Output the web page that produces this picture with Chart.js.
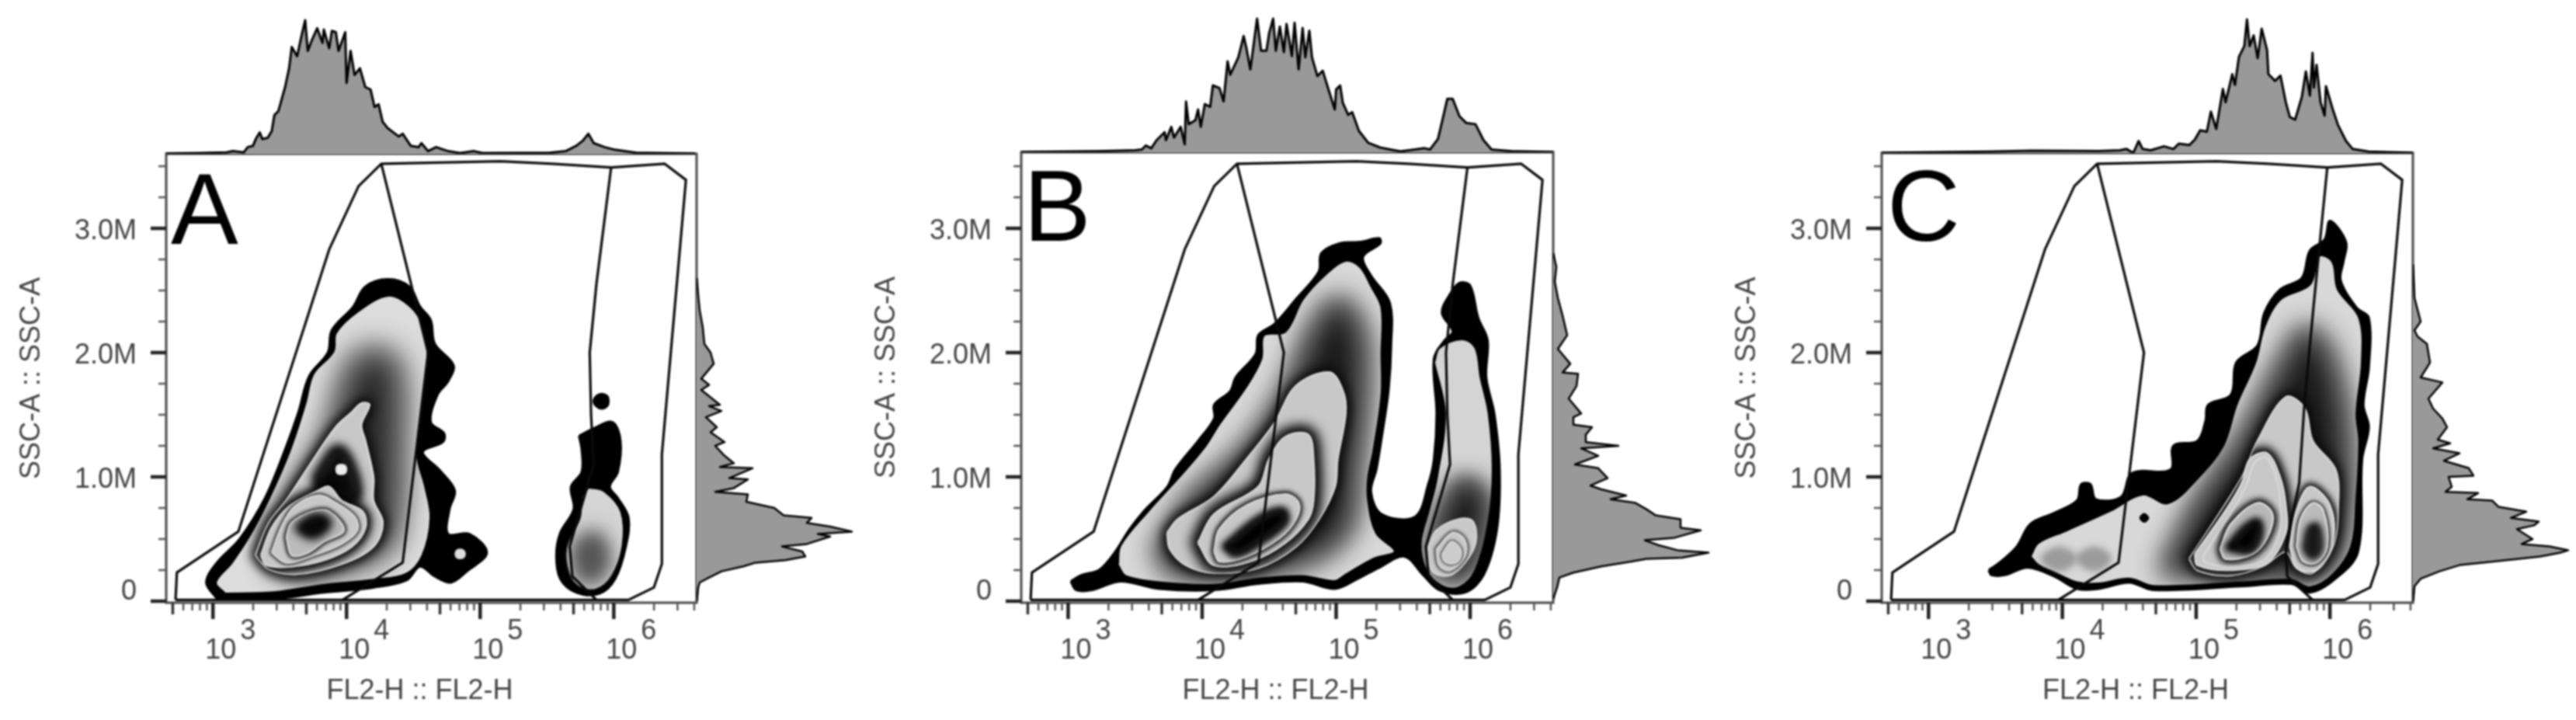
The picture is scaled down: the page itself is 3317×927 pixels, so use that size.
<!DOCTYPE html>
<html><head><meta charset="utf-8">
<script src="https://cdn.jsdelivr.net/npm/chart.js@4"></script>
<style>
html,body{margin:0;padding:0;background:#fff;width:3317px;height:927px;overflow:hidden}
canvas{position:absolute;filter:blur(0.9px)}
</style></head><body>
<script>
// all shapes: [log10(FL2-H), SSC-A in millions]
const panelLetters=['A','B','C'];
const xTitle='FL2-H :: FL2-H   ', yTitle='SSC-A :: SSC-A';
const xDecades=[1e2,1e3,1e4,1e5,1e6], xLabelled=[3,4,5,6], xMultipliers=[1,2,3,4,5,6,7,8,9];
const yMajor=[0,1,2,3], yMinor=[.25,.5,.75,1.25,1.5,1.75,2.25,2.5,2.75,3.25,3.5];
const yTickLabels=['0','1.0M','2.0M','3.0M'];

const gateOuter=[[2.72,.01],[2.73,.23],[3.19,.56],[3.87,2.83],[4.09,3.34],[4.26,3.52],[5.15,3.54],[5.54,3.52],[5.98,3.49],[6.38,3.52],[6.54,3.39],[6.36,1.18],[6.36,.30],[6.30,.11],[6.11,.01],[2.72,.01]];
const gateLeft=[[4.26,3.52],[4.61,2.0],[4.42,.31],[3.97,.01]];
const gateRightAB=[[5.98,3.49],[5.87,2.55],[5.82,2],[5.83,1.5],[5.85,1.1],[5.67,.44],[5.69,.2],[5.87,.01]];
const gateRightC=[[5.98,3.49],[5.88,2.4],[5.81,1.6],[5.77,.95],[5.67,.42],[5.68,.2],[5.87,.01]];

// Panel A
const aBlack=[[3.03,.02],[2.95,.15],[3.03,.31],[3.20,.50],[3.39,.83],[3.54,1.22],[3.64,1.52],[3.72,1.81],[3.86,2.00],[3.89,2.18],[4.05,2.37],[4.14,2.53],[4.31,2.59],[4.47,2.53],[4.55,2.37],[4.63,2.26],[4.66,2.07],[4.80,1.90],[4.76,1.77],[4.68,1.66],[4.63,1.44],[4.73,1.35],[4.72,1.28],[4.57,1.20],[4.70,1.05],[4.81,.89],[4.77,.74],[4.76,.54],[4.92,.54],[5.05,.39],[4.90,.24],[4.78,.15],[4.66,.20],[4.55,.28],[4.45,.17],[4.20,.11],[3.83,.07],[3.46,.02]];
const aLight=[[3.09,.06],[3.02,.15],[3.14,.31],[3.28,.54],[3.42,.83],[3.57,1.20],[3.69,1.59],[3.75,1.83],[3.90,2.01],[3.92,2.16],[4.08,2.33],[4.31,2.46],[4.47,2.38],[4.57,2.22],[4.61,1.92],[4.57,1.59],[4.53,1.18],[4.59,.92],[4.63,.67],[4.57,.37],[4.45,.22],[4.20,.17],[3.83,.13],[3.46,.07]];
const aRidge=[[3.46,.41],[3.59,.81],[3.87,1.33],[4.04,1.89],[4.20,2.0],[4.37,1.89],[4.39,1.15],[4.37,.67],[4.29,.44],[3.87,.26],[3.55,.26]];
const aC2=[[3.32,.37],[3.42,.63],[3.55,.81],[3.71,1.07],[3.92,1.40],[4.04,1.52],[4.11,1.59],[4.17,1.58],[4.11,1.42],[4.14,1.29],[4.20,1.0],[4.20,.81],[4.27,.63],[4.20,.44],[3.96,.30],[3.63,.22],[3.42,.26]];
const aC2Ridge=[[3.78,1.0],[3.94,1.22],[4.06,1.0],[4.06,.82],[3.8,.92]];
const aC3=[[3.36,.37],[3.44,.59],[3.57,.76],[3.79,.89],[3.87,.92],[3.96,.81],[4.12,.72],[4.14,.59],[4.04,.44],[3.83,.33],[3.59,.28],[3.40,.29]];
const aC4=[[3.44,.39],[3.51,.59],[3.61,.76],[3.79,.85],[3.92,.79],[4.06,.68],[4.08,.57],[3.96,.46],[3.75,.37],[3.55,.31]];
const aC5=[[3.55,.52],[3.59,.63],[3.75,.72],[3.87,.72],[3.98,.57],[3.83,.48],[3.71,.39],[3.59,.37]];
const aCore=[[3.65,.59],[3.77,.67],[3.85,.63],[3.75,.54]];
const aHole=[[3.92,1.06],[3.93,1.09],[3.96,1.10],[3.99,1.09],[4.0,1.06],[3.99,1.03],[3.96,1.02],[3.93,1.03]];
const aBlobHole=[[4.81,.38],[4.82,.41],[4.85,.42],[4.88,.41],[4.89,.38],[4.88,.35],[4.85,.34],[4.82,.35]];
const aLobeBlack=[[5.74,1.33],[5.85,1.39],[5.99,1.44],[6.05,1.29],[6.03,1.04],[5.97,.92],[6.03,.83],[6.11,.67],[6.09,.44],[6.01,.18],[5.89,.06],[5.72,.07],[5.60,.18],[5.57,.37],[5.60,.55],[5.70,.74],[5.68,.92],[5.76,1.04],[5.76,1.22]];
const aLobeDot=[[5.91,1.67],[5.95,1.65],[5.96,1.61],[5.95,1.57],[5.91,1.55],[5.87,1.57],[5.85,1.61],[5.87,1.65]];
const aLobeLight=[[5.81,.92],[5.93,.89],[6.06,.72],[6.07,.44],[5.99,.20],[5.87,.09],[5.74,.11],[5.66,.22],[5.64,.43],[5.74,.67],[5.76,.85]];
const aLobeSpot=[[5.76,.41],[5.85,.48],[5.89,.30],[5.80,.22]];
const aTopX=[2.65,2.9,3.1,3.15,3.23,3.26,3.30,3.32,3.35,3.37,3.41,3.44,3.46,3.49,3.54,3.57,3.59,3.63,3.66,3.69,3.71,3.74,3.78,3.82,3.83,3.87,3.89,3.92,3.94,3.99,4.00,4.03,4.06,4.10,4.14,4.18,4.21,4.24,4.27,4.31,4.39,4.42,4.48,4.54,4.56,4.61,4.67,4.76,4.85,4.95,5.02,5.52,5.64,5.72,5.77,5.81,5.85,5.93,6.01,6.17,6.61];
const aTopY=[0,.5,1,2,1,5,6,11,16,11,12,17,29,32,50,64,80,73,87,100,77,85,94,83,93,79,92,91,77,91,53,77,59,64,50,48,35,37,24,19,13,15,6,5,8,2,5,2,.5,2,.5,.7,2,6,10,15,8,5,3,.7,0];
const aSideY=[0,.11,.15,.19,.24,.28,.31,.33,.36,.40,.44,.46,.52,.54,.56,.60,.63,.67,.69,.75,.80,.86,.88,.91,.98,.99,1.07,1.08,1.11,1.17,1.25,1.28,1.36,1.40,1.48,1.53,1.57,1.58,1.70,1.74,1.79,1.91,2.0,2.07,2.20,2.34,2.46,2.6];
const aSideV=[0,1,2,8,16,30,38,57,70,68,55,71,86,78,100,86,71,74,56,50,32,33,12,24,33,21,36,15,24,18,12,18,9,13,6,16,8,15,3,8,3,11,9,5,4,2,1,0];

// Panel B
const bBlack=[[3.02,.16],[3.10,.21],[3.23,.25],[3.34,.38],[3.46,.58],[3.57,.73],[3.74,.92],[3.80,1.06],[3.97,1.29],[4.09,1.47],[4.09,1.58],[4.21,1.69],[4.25,1.80],[4.40,1.99],[4.42,2.14],[4.54,2.23],[4.70,2.43],[4.87,2.65],[4.89,2.80],[5.03,2.88],[5.18,2.89],[5.32,2.92],[5.33,2.88],[5.20,2.77],[5.26,2.62],[5.40,2.40],[5.41,2.06],[5.39,1.69],[5.34,1.32],[5.30,1.06],[5.26,.88],[5.34,.70],[5.59,.68],[5.69,.95],[5.73,1.14],[5.75,1.51],[5.73,1.95],[5.81,2.10],[5.87,2.17],[5.79,2.32],[5.85,2.47],[5.92,2.56],[6.00,2.54],[6.06,2.28],[6.13,2.10],[6.12,1.80],[6.18,1.51],[6.22,1.06],[6.20,.58],[6.10,.21],[5.96,.07],[5.77,.09],[5.65,.21],[5.51,.36],[5.32,.27],[5.16,.18],[4.99,.10],[4.75,.16],[4.42,.14],[4.09,.09],[3.68,.10],[3.39,.16],[3.18,.09],[3.06,.09]];
const bLight=[[3.37,.29],[3.39,.45],[3.60,.73],[3.82,.99],[4.01,1.23],[4.13,1.43],[4.33,1.73],[4.44,1.95],[4.46,2.14],[4.62,2.17],[4.75,2.43],[4.91,2.62],[5.07,2.74],[5.18,2.69],[5.26,2.54],[5.34,2.36],[5.34,1.99],[5.34,1.66],[5.28,1.21],[5.24,.99],[5.24,.81],[5.30,.55],[5.44,.40],[5.28,.34],[5.07,.21],[4.99,.16],[4.75,.20],[4.42,.18],[4.09,.13],[3.68,.15],[3.43,.20]];
const bRidge=[[3.68,.40],[3.92,.81],[4.33,1.21],[4.62,1.66],[4.87,2.25],[5.03,2.40],[5.18,2.17],[5.20,1.66],[5.14,1.06],[5.07,.58],[4.75,.33],[4.09,.23],[3.80,.25]];
const bC2=[[3.74,.55],[3.82,.66],[4.09,.84],[4.33,1.14],[4.54,1.43],[4.70,1.73],[4.95,1.84],[5.05,1.69],[5.07,1.51],[5.01,1.14],[4.99,.92],[4.87,.66],[4.70,.44],[4.42,.27],[4.09,.23],[3.88,.29],[3.76,.42]];
const bC3=[[3.97,.47],[4.09,.70],[4.42,.92],[4.50,1.14],[4.62,1.32],[4.79,1.34],[4.83,1.14],[4.83,.81],[4.79,.66],[4.62,.47],[4.38,.33],[4.09,.29]];
const bC4=[[4.09,.40],[4.13,.58],[4.33,.77],[4.62,.86],[4.72,.79],[4.70,.66],[4.58,.51],[4.33,.36],[4.13,.32]];
const bCore=[[4.17,.44],[4.42,.66],[4.60,.73],[4.62,.64],[4.42,.47],[4.25,.38]];
const bLobeLight=[[5.73,1.92],[5.77,2.04],[5.94,2.11],[6.04,2.04],[6.08,1.80],[6.14,1.51],[6.17,1.06],[6.14,.66],[6.04,.25],[5.92,.11],[5.79,.12],[5.67,.25],[5.63,.47],[5.69,.73],[5.75,.99],[5.81,1.51]];
const bLobeRidge=[[5.77,.66],[5.94,.95],[6.10,.84],[6.08,.51],[5.94,.21],[5.73,.29]];
const bLobeC2=[[5.69,.44],[5.75,.57],[5.92,.66],[6.02,.64],[6.04,.47],[5.96,.31],[5.85,.21],[5.73,.23],[5.69,.33]];
const bLobeC3=[[5.75,.42],[5.87,.55],[5.96,.49],[5.96,.36],[5.85,.25],[5.77,.29]];
const bLobeC4=[[5.79,.38],[5.86,.48],[5.93,.42],[5.92,.33],[5.85,.30],[5.80,.33]];
const bTopX=[2.65,3.23,3.5,3.55,3.58,3.62,3.66,3.72,3.73,3.77,3.79,3.84,3.87,3.88,3.90,3.95,3.97,3.99,4.02,4.06,4.08,4.13,4.16,4.19,4.21,4.27,4.31,4.33,4.36,4.41,4.44,4.48,4.50,4.53,4.55,4.58,4.61,4.63,4.67,4.69,4.72,4.75,4.77,4.80,4.82,4.86,4.90,4.94,4.99,5.00,5.03,5.05,5.09,5.12,5.17,5.24,5.33,5.48,5.66,5.70,5.76,5.80,5.83,5.87,5.92,5.97,6.04,6.10,6.16,6.31,6.62];
const bTopY=[0,.7,1.5,2,5,3,9,15,9,19,11,19,6,38,21,24,32,19,36,34,50,48,38,68,58,71,87,78,62,100,76,76,89,100,76,94,75,96,72,97,62,93,71,91,71,57,61,48,32,47,50,37,28,30,16,7,3.5,.6,3,2,10,27,40,40,27,22,21,9,2,.7,0];
const bSideY=[.02,.11,.19,.23,.28,.32,.34,.35,.39,.41,.45,.49,.51,.57,.59,.66,.69,.74,.79,.82,.85,.90,.93,.99,1.07,1.10,1.17,1.23,1.25,1.28,1.34,1.40,1.42,1.48,1.51,1.63,1.73,1.83,1.84,1.91,2.03,2.14,2.30,2.44,2.57,2.69,2.8];
const bSideV=[0,2.5,4,13,31,51,60,83,100,80,68,59,78,95,82,82,66,60,53,37,47,31,24,35,29,14,29,18,42,21,21,25,13,13,18,10,15,16,6,11,3,9,6,3,1,2,0];

// Panel C
const cBlack=[[3.45,.25],[3.53,.31],[3.66,.44],[3.76,.62],[3.94,.71],[4.11,.81],[4.14,.94],[4.21,.94],[4.25,.82],[4.44,.84],[4.52,1.03],[4.81,1.06],[4.83,1.25],[5.01,1.29],[5.07,1.45],[5.09,1.58],[5.26,1.66],[5.30,1.92],[5.46,2.06],[5.51,2.32],[5.63,2.51],[5.79,2.60],[5.85,2.82],[5.96,2.91],[6.00,3.06],[6.12,2.89],[6.10,2.73],[6.08,2.58],[6.20,2.36],[6.29,2.28],[6.29,1.88],[6.25,1.58],[6.29,1.40],[6.24,1.14],[6.21,.40],[6.04,.18],[5.85,.07],[5.71,.14],[5.34,.12],[4.68,.09],[4.50,.15],[4.27,.10],[4.11,.10],[3.94,.20],[3.74,.27],[3.57,.21],[3.47,.21]];
const cLight=[[3.76,.36],[3.82,.47],[4.03,.57],[4.36,.73],[4.60,.86],[4.79,.79],[5.01,.99],[5.20,1.25],[5.30,1.58],[5.44,1.92],[5.51,2.21],[5.63,2.43],[5.85,2.55],[5.92,2.78],[6.02,2.73],[6.06,2.51],[6.22,2.28],[6.24,1.92],[6.20,1.51],[6.22,1.29],[6.20,.84],[6.16,.44],[6.02,.21],[5.85,.11],[5.71,.17],[5.34,.15],[4.68,.12],[4.50,.18],[4.27,.14],[4.11,.15],[3.94,.23],[3.82,.29]];
const cRidge=[[4.77,.25],[5.01,.77],[5.34,1.29],[5.67,1.95],[5.83,2.17],[6.00,1.95],[6.12,1.32],[6.10,.58],[5.96,.25],[5.51,.21]];
const cSpot1=[[3.87,.34],[3.97,.40],[4.07,.34],[3.97,.28]];
const cSpot2=[[4.13,.34],[4.23,.40],[4.33,.34],[4.23,.28]];
const cDot=[[4.58,.67],[4.61,.70],[4.64,.67],[4.61,.64]];
const cC2=[[4.95,.34],[5.34,.99],[5.46,1.29],[5.67,1.64],[5.81,1.55],[5.87,1.29],[6.04,1.06],[6.06,.77],[6.02,.44],[5.87,.23],[5.75,.27],[5.67,.40],[5.51,.29],[5.26,.21],[5.01,.25]];
const cC3=[[4.99,.38],[5.22,.73],[5.34,.95],[5.40,1.14],[5.53,1.19],[5.63,.99],[5.67,.77],[5.67,.55],[5.53,.31],[5.26,.25],[5.01,.29]];
const cC3b=[[5.05,.36],[5.26,.70],[5.37,.92],[5.44,1.12],[5.53,1.15],[5.61,.95],[5.63,.73],[5.62,.55],[5.51,.33],[5.26,.28],[5.07,.31]];
const cC4=[[5.18,.42],[5.26,.62],[5.46,.79],[5.57,.70],[5.53,.51],[5.42,.38],[5.22,.34]];
const cCore=[[5.24,.43],[5.36,.58],[5.46,.64],[5.47,.52],[5.40,.41]];
const cRightC3=[[5.70,.44],[5.75,.73],[5.85,.92],[6.00,.77],[6.02,.47],[5.90,.25],[5.75,.27]];
const cRightC4=[[5.75,.44],[5.78,.66],[5.87,.79],[5.95,.73],[5.98,.44],[5.90,.31],[5.80,.32]];
const cRightCore=[[5.82,.42],[5.85,.58],[5.90,.60],[5.92,.42],[5.87,.36]];
const cTopX=[2.65,3.45,3.78,4.27,4.43,4.48,4.53,4.57,4.60,4.66,4.76,4.83,4.87,4.95,4.99,5.03,5.08,5.11,5.15,5.20,5.22,5.27,5.29,5.32,5.36,5.38,5.40,5.43,5.46,5.49,5.53,5.54,5.59,5.63,5.67,5.70,5.74,5.79,5.82,5.85,5.87,5.88,5.90,5.93,5.96,5.97,6.02,6.06,6.12,6.17,6.29,6.62];
const cTopY=[0,1,1.7,1.5,2,3,0,9,3,2,5,3,7,6,10,17,16,31,18,48,38,59,51,72,80,100,80,88,71,93,77,59,54,58,38,27,25,42,61,43,75,49,66,38,28,50,33,21,9,3,1,0];
const cSideY=[0,.12,.18,.24,.29,.32,.36,.39,.41,.44,.46,.50,.58,.61,.64,.67,.72,.76,.81,.82,.87,.88,.92,1.00,1.01,1.07,1.13,1.19,1.23,1.27,1.30,1.40,1.47,1.55,1.63,1.76,1.80,1.92,2.07,2.13,2.18,2.25,2.44,2.71];
const cSideV=[0,1,5,17,30,53,82,95,100,88,70,77,67,78,81,63,73,55,51,35,42,21,25,23,39,36,20,30,13,24,16,22,19,13,10,19,5,11,9,3,1,5,1,0];

const FONT='"Liberation Sans",Arial,sans-serif', TXT='#444';
const toXY=(p,close)=>{const d=p.map(([l,m])=>({x:Math.pow(10,l),y:m*1e6}));if(close)d.push({...d[0]});return d;};
const L=(pts,fill,stroke,sw,blur,clip,dil)=>({pts,fill,stroke,sw,blur,clip,dil});

const panels=[
 {letter:0,fl:214,fr:897,ft:198,fb:776,lx:220,ly:314,gr:gateRightAB,topX:aTopX,topY:aTopY,sideY:aSideY,sideV:aSideV,layers:[
  L(aBlack,'#000','#000',3),L(aLobeBlack,'#000','#000',3),L(aLobeDot,'#000','#000',3),L(aBlobHole,'#ddd','#ccc',1),
  L(aLight,'#dcdcdc','#000',3),L(aRidge,'#2a2a2a',null,0,18,aLight,.6),L(aC2,'#0a0a0a',null,0,7,aLight,1.6),
  L(aC2,'#c8c8c8','#d4d4d4',3),L(aC2Ridge,'#0a0a0a',null,0,6,aC2),L(aC3,'#000',null,0,6,aC2),L(aHole,'#eee','#ddd',2),
  L(aC3,'#c8c8c8','#d0d0d0',3),L(aC4,'#000',null,0,2,aC3),
  L(aC4,'#c8c8c8','#d0d0d0',3),L(aC5,'#000',null,0,2.5,aC4),
  L(aC5,'#bbb','#ccc',3),L(aCore,'#050505',null,0,6,aC5),
  L(aLobeLight,'#d4d4d4','#000',4),L(aLobeSpot,'#555',null,0,12,aLobeLight)]},
 {letter:1,fl:1315,fr:2000,ft:196,fb:776,lx:1318,ly:310,gr:gateRightAB,topX:bTopX,topY:bTopY,sideY:bSideY,sideV:bSideV,layers:[
  L(bBlack,'#000','#000',3),
  L(bLight,'#d8d8d8','#000',3),L(bRidge,'#1a1a1a',null,0,17,bLight,.7),L(bC2,'#0a0a0a',null,0,7,bLight,1.6),
  L(bC2,'#c8c8c8','#d0d0d0',3),L(bC3,'#000',null,0,8,bC2),
  L(bC3,'#c8c8c8','#d0d0d0',3),L(bC4,'#000',null,0,3,bC3),
  L(bC4,'#c8c8c8','#d0d0d0',3),L(bCore,'#000',null,0,4,bC4),
  L(bLobeLight,'#d4d4d4','#000',3),L(bLobeRidge,'#1a1a1a',null,0,14,bLobeLight,1),
  L(bLobeC2,'#c8c8c8','#d0d0d0',3),L(bLobeC3,'#111',null,0,2,bLobeC2),
  L(bLobeC3,'#c8c8c8','#d0d0d0',3),L(bLobeC4,'#222',null,0,1.5,bLobeC3),
  L(bLobeC4,'#ccc','#d4d4d4',2)]},
 {letter:2,fl:2423,fr:3107,ft:197,fb:776,lx:2430,ly:310,gr:gateRightC,topX:cTopX,topY:cTopY,sideY:cSideY,sideV:cSideV,layers:[
  L(cBlack,'#000','#000',3),
  L(cLight,'#d8d8d8','#000',3),L(cSpot1,'#999',null,0,5,cLight),L(cSpot2,'#999',null,0,5,cLight),L(cDot,'#000','#000',3),L(cRidge,'#1a1a1a',null,0,17,cLight,.7),L(cC2,'#0a0a0a',null,0,7,cLight,1.6),
  L(cC2,'#c8c8c8','#d0d0d0',3),L(cC3,'#000',null,0,6,cC2),L(cRightC3,'#000',null,0,4,cC2),
  L(cC3,'#c8c8c8','#d8d8d8',2.5),
  L(cC3b,'#c8c8c8','#d8d8d8',2.5),L(cC4,'#000',null,0,4,cC3b),
  L(cC4,'#b8b8b8','#d0d0d0',3),L(cCore,'#000',null,0,4,cC4),
  L(cRightC3,'#c8c8c8','#d8d8d8',2.5),L(cRightC4,'#000',null,0,2,cRightC3),
  L(cRightC4,'#bbb','#d8d8d8',2.5),L(cRightCore,'#111',null,0,4,cRightC4)]}
];

// trace a dataset's own line (the points and curve handles the library computed) as a closed path
const metaPath=(chart,meta)=>{const ctx=chart.ctx;meta.dataset.updateControlPoints(chart.chartArea);const pts=meta.data;ctx.beginPath();
  pts.forEach((p,i)=>{if(!i){ctx.moveTo(p.x,p.y);return;}const q=pts[i-1];
    if(q.cp2x!==undefined&&p.cp1x!==undefined&&meta.dataset.options.tension)ctx.bezierCurveTo(q.cp2x,q.cp2y,p.cp1x,p.cp1y,p.x,p.y);else ctx.lineTo(p.x,p.y);});
  ctx.closePath();};
const shadePlugin={id:'shade',beforeDatasetDraw(chart,args){
  const ds=chart.data.datasets[args.index];if(!ds.shade)return;
  const ctx=chart.ctx;ctx.save();
  if(ds.shade.clip){const j=chart.data.datasets.findIndex(d=>d.src===ds.shade.clip);metaPath(chart,chart.getDatasetMeta(j));ctx.clip();}
  ctx.fillStyle=ds.shade.fill;
  metaPath(chart,args.meta);
  if(ds.shade.blur){const k=ds.shade.dil===undefined?2.4:ds.shade.dil;ctx.filter='blur('+ds.shade.blur+'px)';ctx.strokeStyle=ds.shade.fill;ctx.lineJoin='round';ctx.lineWidth=ds.shade.blur*k;ctx.stroke();}
  ctx.fill();ctx.restore();
}};

const framePlugin={id:'frameTicks',afterDatasetsDraw(chart,_,opts){
  const ctx=chart.ctx,a=chart.chartArea,X=chart.scales.x,Y=chart.scales.y;
  ctx.save();ctx.strokeStyle='#484848';ctx.lineWidth=3;ctx.strokeRect(a.left,a.top,a.right-a.left,a.bottom-a.top);
  X.ticks.forEach(t=>{const m=Math.round(t.value/Math.pow(10,Math.floor(Math.log10(t.value)+1e-9)));
    const len=m===1?21:m===5?15:10;ctx.lineWidth=m===1?4.5:m===5?3.5:2.5;ctx.strokeStyle=m===1?'#222':m===5?'#333':'#555';
    const x=X.getPixelForValue(t.value);ctx.beginPath();ctx.moveTo(x,a.bottom);ctx.lineTo(x,a.bottom+len);ctx.stroke();});
  Y.ticks.forEach(t=>{const maj=yMajor.includes(t.value/1e6);ctx.lineWidth=maj?4.5:2.5;ctx.strokeStyle=maj?'#222':'#555';
    const y=Y.getPixelForValue(t.value);ctx.beginPath();ctx.moveTo(a.left,y);ctx.lineTo(a.left-(maj?20:10),y);ctx.stroke();});
  ctx.fillStyle='#000';ctx.font='130px '+FONT;ctx.textBaseline='alphabetic';ctx.textAlign='left';
  ctx.fillText(opts.letter,opts.lx,opts.ly);
  ctx.restore();
}};

const mk=(left,top,w,h)=>{const c=document.createElement('canvas');c.width=w;c.height=h;c.style.left=left+'px';c.style.top=top+'px';c.style.width=w+'px';c.style.height=h+'px';document.body.appendChild(c);return c;};
const base={responsive:false,animation:false,events:[],devicePixelRatio:1};
const xLim=[Math.pow(10,2.65),Math.pow(10,6.62)];
const line=(data,extra)=>Object.assign({data,showLine:true,pointRadius:0,borderWidth:3,borderColor:'#000',tension:0,fill:false,clip:false,borderJoinStyle:'round'},extra);
const noPad=s=>{s.paddingLeft=s.paddingRight=s.paddingTop=s.paddingBottom=0;};

panels.forEach(p=>{
  const yLim=[-0.0125e6,(p.fb-p.ft)/160*1e6-0.0125e6];
  const cx=p.fl-214, w=p.fr-cx+4, cy=p.ft-10;
  const ds=[];
  p.layers.forEach(l=>ds.push(line(toXY(l.pts,true),{src:l.blur?undefined:l.pts,tension:.35,borderColor:l.stroke||'rgba(0,0,0,0)',borderWidth:l.sw||0,shade:{fill:l.fill,blur:l.blur,clip:l.clip,dil:l.dil}})));
  [gateOuter,gateLeft,p.gr].forEach(g=>ds.push(line(toXY(g,false),{borderColor:'#0a0a0a',borderWidth:3.2})));
  ds.forEach((d,i)=>d.order=ds.length-i);
  new Chart(mk(cx,cy,w,927-cy),{type:'scatter',data:{datasets:ds},plugins:[shadePlugin,framePlugin],options:{...base,
    layout:{padding:{top:10,right:4,left:0,bottom:0}},
    plugins:{legend:{display:false},tooltip:{enabled:false},title:{display:false},frameTicks:{letter:panelLetters[p.letter],lx:p.lx-cx,ly:p.ly-cy}},
    scales:{
      x:{type:'logarithmic',min:xLim[0],max:xLim[1],grid:{display:false,drawTicks:false},border:{display:false},
        afterBuildTicks(s){const t=[];xDecades.forEach(d=>xMultipliers.forEach(m=>{const v=d*m;if(v>=xLim[0]&&v<=xLim[1])t.push({value:v});}));s.ticks=t;},
        afterFit(s){s.height=927-p.fb;noPad(s);},
        ticks:{autoSkip:false,maxRotation:0,minRotation:0,padding:24,color:TXT,font:{family:FONT,size:36,lineHeight:0.7},
          callback(v){const k=Math.round(Math.log10(v));return (Math.abs(Math.pow(10,k)-v)<1e-6*v&&xLabelled.includes(k))?['         '+k,'  10']:'';}},
        title:{display:true,text:xTitle,color:TXT,font:{family:FONT,size:36},padding:15}},
      y:{type:'linear',min:yLim[0],max:yLim[1],grid:{display:false,drawTicks:false},border:{display:false},
        afterBuildTicks(s){s.ticks=[...yMajor,...yMinor].sort((a,b)=>a-b).map(v=>({value:v*1e6}));},
        afterFit(s){s.width=214;noPad(s);},
        ticks:{autoSkip:false,padding:38,labelOffset:4,color:TXT,font:{family:FONT,size:36,lineHeight:32/36},
          callback(v){const i=yMajor.indexOf(v/1e6);return i<0?'':(i===0?[yTickLabels[0],'']:yTickLabels[i]);}},
        title:{display:true,text:yTitle,color:TXT,font:{family:FONT,size:36},padding:19}}
    }}});
  new Chart(mk(p.fl,0,p.fr-p.fl,p.ft),{type:'scatter',data:{datasets:[line(p.topX.map((l,i)=>({x:Math.pow(10,l),y:p.topY[i]})),{fill:'origin',backgroundColor:'#999999',borderWidth:3})]},
    options:{...base,layout:{padding:0},plugins:{legend:{display:false},tooltip:{enabled:false}},
      scales:{x:{type:'logarithmic',display:false,min:xLim[0],max:xLim[1]},y:{display:false,min:0,max:p.ft/172*100}}}});
  new Chart(mk(p.fr,p.ft-10,215,p.fb-p.ft+20),{type:'scatter',data:{datasets:[line(p.sideY.map((m,i)=>({x:p.sideV[i],y:m*1e6})),{borderWidth:2.5,shade:{fill:'#999999'}})]},plugins:[shadePlugin],
    options:{...base,layout:{padding:{top:10,bottom:10}},plugins:{legend:{display:false},tooltip:{enabled:false}},
      scales:{x:{type:'linear',display:false,min:0,max:215/200*100},y:{display:false,min:yLim[0],max:yLim[1]}}}});
});
</script>
</body></html>
